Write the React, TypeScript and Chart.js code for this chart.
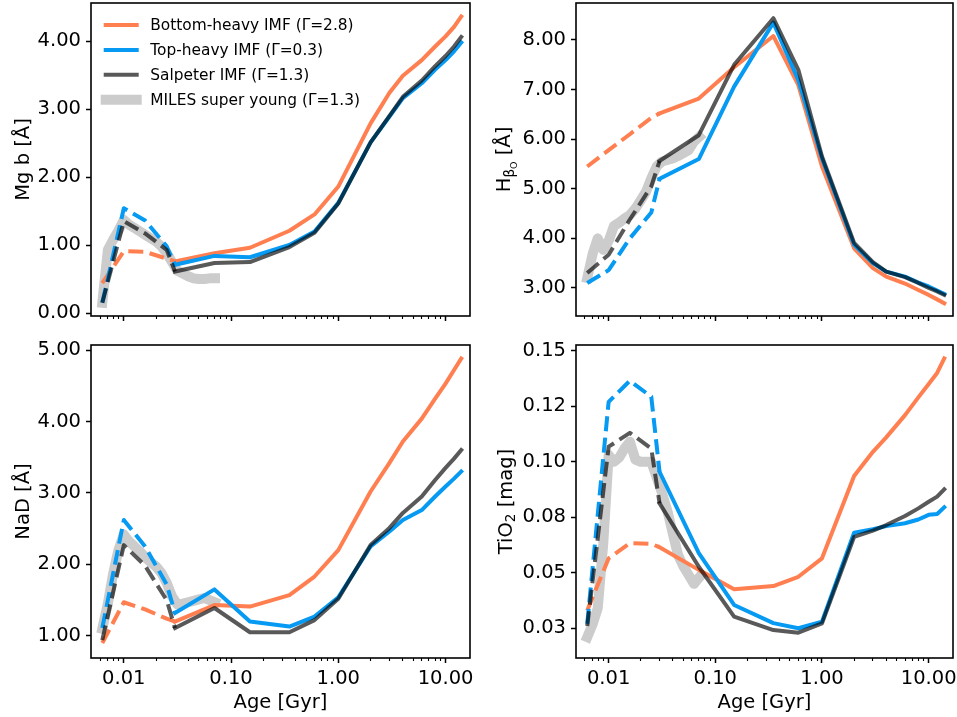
import React, { useEffect, useRef } from 'react';
import { Chart, registerables } from 'chart.js';

Chart.register(...registerables);

// ---------------- data ----------------
const youngAges = [0.0063, 0.01, 0.0158, 0.0251, 0.03];
const oldAges = [0.03, 0.07, 0.15, 0.35, 0.6, 1.0, 2.0, 3.0, 4.0, 6.0, 8.0, 10.0, 12.0, 14.0];
const milesAges = [
  0.0063, 0.0071, 0.0079, 0.0089, 0.01, 0.0112, 0.0126, 0.0141, 0.0158, 0.0178, 0.02,
  0.0224, 0.0251, 0.0282, 0.0316, 0.0355, 0.0398, 0.0447, 0.0501, 0.0562, 0.0631, 0.0708,
];

// Mg b
const mgbBottomYoung = [0.44, 0.91, 0.9, 0.8, 0.76];
const mgbTopYoung = [0.15, 1.54, 1.36, 0.98, 0.71];
const mgbSalpYoung = [0.15, 1.35, 1.17, 0.93, 0.61];
const mgbBottomOld = [0.76, 0.88, 0.96, 1.21, 1.45, 1.86, 2.79, 3.24, 3.49, 3.72, 3.92, 4.07, 4.21, 4.36];
const mgbTopOld = [0.71, 0.84, 0.82, 1.0, 1.2, 1.62, 2.51, 2.89, 3.16, 3.38, 3.58, 3.72, 3.85, 3.98];
const mgbSalpOld = [0.61, 0.735, 0.75, 0.97, 1.18, 1.61, 2.51, 2.9, 3.18, 3.42, 3.63, 3.78, 3.92, 4.06];
const mgbMiles = [0.15, 0.93, 1.07, 1.21, 1.37, 1.3, 1.25, 1.2, 1.15, 1.1, 1.05, 0.98, 0.88, 0.75, 0.62, 0.58, 0.54, 0.51, 0.5, 0.5, 0.51, 0.51];

// H beta_o
const hbBottomYoung = [5.45, 5.78, 6.1, 6.43, 6.52];
const hbTopYoung = [3.1, 3.36, 4.0, 4.52, 5.2];
const hbSalpYoung = [3.3, 3.67, 4.38, 5.05, 5.56];
const hbBottomOld = [6.52, 6.82, 7.45, 8.08, 7.09, 5.45, 3.8, 3.4, 3.23, 3.09, 2.96, 2.86, 2.77, 2.69];
const hbTopOld = [5.2, 5.6, 7.06, 8.35, 7.19, 5.61, 3.87, 3.5, 3.33, 3.23, 3.11, 3.03, 2.95, 2.88];
const hbSalpOld = [5.56, 6.08, 7.5, 8.44, 7.4, 5.65, 3.91, 3.52, 3.33, 3.22, 3.1, 3.0, 2.93, 2.86];
const hbMiles = [3.2, 3.7, 4.0, 3.77, 3.95, 4.25, 4.32, 4.4, 4.47, 4.6, 4.77, 4.94, 5.21, 5.45, 5.55, 5.58, 5.61, 5.66, 5.72, 5.78, 5.95, 6.05];

// NaD
const nadBottomYoung = [0.9, 1.47, 1.37, 1.24, 1.2];
const nadTopYoung = [1.11, 2.62, 2.25, 1.72, 1.32];
const nadSalpYoung = [0.94, 2.27, 1.98, 1.5, 1.11];
const nadBottomOld = [1.2, 1.43, 1.41, 1.57, 1.83, 2.2, 3.02, 3.42, 3.72, 4.04, 4.32, 4.53, 4.72, 4.88];
const nadTopOld = [1.32, 1.65, 1.2, 1.13, 1.27, 1.54, 2.25, 2.46, 2.62, 2.76, 2.95, 3.09, 3.2, 3.3];
const nadSalpOld = [1.11, 1.39, 1.05, 1.05, 1.22, 1.52, 2.27, 2.51, 2.72, 2.95, 3.18, 3.35, 3.48, 3.6];
const nadMiles = [1.1, 1.45, 1.85, 2.2, 2.42, 2.32, 2.25, 2.18, 2.1, 2.03, 1.97, 1.88, 1.74, 1.55, 1.44, 1.45, 1.47, 1.49, 1.51, 1.53, 1.5, 1.47];

// TiO2
const tioBottomYoung = [0.033, 0.0565, 0.0633, 0.063, 0.0615];
const tioTopYoung = [0.027, 0.127, 0.1365, 0.1293, 0.0955];
const tioSalpYoung = [0.026, 0.1068, 0.113, 0.106, 0.0813];
const tioBottomOld = [0.0615, 0.0513, 0.0426, 0.044, 0.0482, 0.0565, 0.0936, 0.1045, 0.111, 0.121, 0.129, 0.135, 0.14, 0.1466];
const tioTopOld = [0.0955, 0.0588, 0.0355, 0.0273, 0.025, 0.028, 0.068, 0.0696, 0.071, 0.0723, 0.074, 0.0761, 0.0765, 0.0795];
const tioSalpOld = [0.0813, 0.0527, 0.0302, 0.0242, 0.023, 0.0272, 0.0662, 0.069, 0.0715, 0.0756, 0.079, 0.082, 0.0843, 0.0876];
const tioMiles = [0.021, 0.027, 0.034, 0.063, 0.103, 0.1, 0.102, 0.106, 0.109, 0.101, 0.1, 0.1, 0.1, 0.093, 0.086, 0.078, 0.068, 0.058, 0.053, 0.049, 0.045, 0.048];

// ticks
const xMajorTicks = [0.01, 0.1, 1, 10];
const xMinorTicks = [
  0.006, 0.007, 0.008, 0.009,
  0.02, 0.03, 0.04, 0.05, 0.06, 0.07, 0.08, 0.09,
  0.2, 0.3, 0.4, 0.5, 0.6, 0.7, 0.8, 0.9,
  2, 3, 4, 5, 6, 7, 8, 9,
];
const mgbTicks = [0, 1, 2, 3, 4];
const hbTicks = [3, 4, 5, 6, 7, 8];
const nadTicks = [1, 2, 3, 4, 5];
const tioTicks = [0.025, 0.05, 0.075, 0.1, 0.125, 0.15];
const tioTickLabels = ['0.03', '0.05', '0.08', '0.10', '0.12', '0.15'];

const legendLabels = [
  'Bottom-heavy IMF (Γ=2.8)',
  'Top-heavy IMF (Γ=0.3)',
  'Salpeter IMF (Γ=1.3)',
  'MILES super young (Γ=1.3)',
];

// ---------------- styles ----------------
const W = 957;
const H = 717;
const FONT = 'DejaVu Sans';
const TICK_SIZE = 19.5;
const LEGEND_SIZE = 15.4;
const ORANGE = '#FF7F50';
const BLUE = '#069AF3';
const GRAY = 'rgba(0,0,0,0.65)';
const MILES = '#CCCCCC';
const LINE_W = 4;
const BAND_W = 10;
const DASH = [15, 6.5];
const X_MIN = Math.pow(10, -2.306);
const X_MAX = Math.pow(10, 1.228);
const Y_AXIS_W = 60;

type Piece = { t: string; s: number; dy: number };

type PanelSpec = {
  box: { left: number; top: number; right: number; bottom: number };
  yMin: number;
  yMax: number;
  yTicks: number[];
  yLabels?: string[];
  yTitle: Piece[];
  yTitleX: number;
  showX: boolean;
  legend: boolean;
  young: number[][];
  old: number[][];
  miles: number[];
};

const panels: PanelSpec[] = [
  {
    box: { left: 91, top: 3, right: 470, bottom: 316 },
    yMin: -0.044, yMax: 4.56, yTicks: mgbTicks,
    yTitle: [{ t: 'Mg b [Å]', s: TICK_SIZE, dy: 0 }], yTitleX: 28.5,
    showX: false, legend: true,
    young: [mgbBottomYoung, mgbTopYoung, mgbSalpYoung],
    old: [mgbBottomOld, mgbTopOld, mgbSalpOld],
    miles: mgbMiles,
  },
  {
    box: { left: 576, top: 3, right: 953, bottom: 316 },
    yMin: 2.435, yMax: 8.746, yTicks: hbTicks,
    yTitle: [
      { t: 'H', s: TICK_SIZE, dy: 0 },
      { t: 'β', s: 13.6, dy: 3.5 },
      { t: 'O', s: 9.5, dy: 6.5 },
      { t: ' [Å]', s: TICK_SIZE, dy: 0 },
    ],
    yTitleX: 510,
    showX: false, legend: false,
    young: [hbBottomYoung, hbTopYoung, hbSalpYoung],
    old: [hbBottomOld, hbTopOld, hbSalpOld],
    miles: hbMiles,
  },
  {
    box: { left: 91, top: 345, right: 470, bottom: 658 },
    yMin: 0.69, yMax: 5.07, yTicks: nadTicks,
    yTitle: [{ t: 'NaD [Å]', s: TICK_SIZE, dy: 0 }], yTitleX: 28.5,
    showX: true, legend: false,
    young: [nadBottomYoung, nadTopYoung, nadSalpYoung],
    old: [nadBottomOld, nadTopOld, nadSalpOld],
    miles: nadMiles,
  },
  {
    box: { left: 576, top: 345, right: 953, bottom: 658 },
    yMin: 0.0116, yMax: 0.1526, yTicks: tioTicks, yLabels: tioTickLabels,
    yTitle: [
      { t: 'TiO', s: TICK_SIZE, dy: 0 },
      { t: '2', s: 13.6, dy: 3.5 },
      { t: ' [mag]', s: TICK_SIZE, dy: 0 },
    ],
    yTitleX: 511.5,
    showX: true, legend: false,
    young: [tioBottomYoung, tioTopYoung, tioSalpYoung],
    old: [tioBottomOld, tioTopOld, tioSalpOld],
    miles: tioMiles,
  },
];

const isMajor = (v: number) => xMajorTicks.some((m) => Math.abs(Math.log10(v) - Math.log10(m)) < 1e-6);

function drawRich(ctx: CanvasRenderingContext2D, pieces: Piece[], cx: number, cy: number, rotate: boolean) {
  ctx.save();
  ctx.translate(cx, cy);
  if (rotate) ctx.rotate(-Math.PI / 2);
  ctx.textBaseline = 'alphabetic';
  ctx.textAlign = 'left';
  ctx.fillStyle = '#000';
  let total = 0;
  const widths = pieces.map((p) => {
    ctx.font = `${p.s}px "${FONT}"`;
    const w = ctx.measureText(p.t).width;
    total += w;
    return w;
  });
  let x = -total / 2;
  pieces.forEach((p, i) => {
    ctx.font = `${p.s}px "${FONT}"`;
    ctx.fillText(p.t, x, p.dy);
    x += widths[i];
  });
  ctx.restore();
}

const decorPlugin = {
  id: 'decor',
  afterDraw(chart: any) {
    const spec: PanelSpec = chart.options.plugins.decor.spec;
    const ctx: CanvasRenderingContext2D = chart.ctx;
    const a = chart.chartArea;
    // frame
    ctx.save();
    ctx.strokeStyle = '#000';
    ctx.lineWidth = 1.6;
    ctx.strokeRect(a.left, a.top, a.right - a.left, a.bottom - a.top);
    ctx.restore();
    // y title
    drawRich(ctx, spec.yTitle, spec.yTitleX, (a.top + a.bottom) / 2, true);
    // x title
    if (spec.showX) {
      drawRich(ctx, [{ t: 'Age [Gyr]', s: TICK_SIZE, dy: 0 }], (a.left + a.right) / 2, 708.3, false);
    }
    // legend
    if (spec.legend) {
      const colors = [ORANGE, BLUE, GRAY, MILES];
      const widths = [LINE_W, LINE_W, LINE_W, BAND_W];
      ctx.save();
      ctx.font = `${LEGEND_SIZE}px "${FONT}"`;
      ctx.textBaseline = 'middle';
      ctx.textAlign = 'left';
      legendLabels.forEach((label, i) => {
        const y = a.top + 22 + i * 24.9;
        ctx.beginPath();
        ctx.strokeStyle = colors[i];
        ctx.lineWidth = widths[i];
        ctx.lineCap = 'square';
        ctx.moveTo(a.left + 14.7, y);
        ctx.lineTo(a.left + 45.7, y);
        ctx.stroke();
        ctx.fillStyle = '#000';
        ctx.fillText(label, a.left + 59.3, y + 1);
      });
      ctx.restore();
    }
  },
};

function pts(xs: number[], ys: number[]) {
  return xs.map((x, i) => ({ x, y: ys[i] }));
}

function buildConfig(spec: PanelSpec): any {
  const colors = [ORANGE, BLUE, GRAY];
  const datasets: any[] = [
    {
      label: 'MILES super young (Γ=1.3)',
      data: pts(milesAges, spec.miles),
      borderColor: MILES,
      borderWidth: BAND_W,
      borderCapStyle: 'square',
      borderJoinStyle: 'round',
      pointRadius: 0,
      order: 10,
    },
  ];
  colors.forEach((c, k) => {
    datasets.push({
      label: legendLabels[k] + ' young',
      data: pts(youngAges, spec.young[k]),
      borderColor: c,
      borderWidth: LINE_W,
      borderDash: DASH,
      borderCapStyle: 'butt',
      borderJoinStyle: 'round',
      pointRadius: 0,
      order: 9 - 2 * k,
    });
    datasets.push({
      label: legendLabels[k],
      data: pts(oldAges, spec.old[k]),
      borderColor: c,
      borderWidth: LINE_W,
      borderCapStyle: 'square',
      borderJoinStyle: 'round',
      pointRadius: 0,
      order: 8 - 2 * k,
    });
  });

  const font = { family: FONT, size: TICK_SIZE };
  const xAxisH = spec.showX ? 40 : 20;
  return {
    type: 'line',
    data: { datasets },
    options: {
      responsive: false,
      animation: false,
      events: [],
      devicePixelRatio: 1,
      layout: {
        padding: {
          left: spec.box.left - Y_AXIS_W,
          top: spec.box.top,
          right: W - spec.box.right,
          bottom: H - spec.box.bottom - xAxisH,
        },
      },
      plugins: {
        legend: { display: false },
        tooltip: { enabled: false },
        decor: { spec },
      },
      scales: {
        x: {
          type: 'logarithmic',
          min: X_MIN,
          max: X_MAX,
          afterBuildTicks: (s: any) => {
            s.ticks = [...xMajorTicks, ...xMinorTicks]
              .filter((v) => v >= X_MIN && v <= X_MAX)
              .sort((p, q) => p - q)
              .map((v) => ({ value: v, major: isMajor(v) }));
          },
          afterFit: (s: any) => {
            s.height = xAxisH;
            s.paddingLeft = 0;
            s.paddingRight = 0;
            s.paddingTop = 0;
            s.paddingBottom = 0;
          },
          ticks: {
            autoSkip: false,
            maxRotation: 0,
            minRotation: 0,
            padding: 4,
            color: '#000',
            font,
            callback: (v: any) => (spec.showX && isMajor(Number(v)) ? Number(v).toFixed(2) : ''),
          },
          grid: {
            drawOnChartArea: false,
            drawTicks: true,
            tickLength: 5,
            tickColor: '#000',
            tickWidth: (c: any) => (c.tick && isMajor(c.tick.value) ? 1.5 : 1.1),
            tickBorderDash: (c: any) => (c.tick && isMajor(c.tick.value) ? [] : [3, 30]),
          },
          border: { display: false },
        },
        y: {
          type: 'linear',
          min: spec.yMin,
          max: spec.yMax,
          afterBuildTicks: (s: any) => {
            s.ticks = spec.yTicks.map((v) => ({ value: v }));
          },
          afterFit: (s: any) => {
            s.width = Y_AXIS_W;
            s.paddingLeft = 0;
            s.paddingRight = 0;
            s.paddingTop = 0;
            s.paddingBottom = 0;
          },
          ticks: {
            autoSkip: false,
            padding: 5,
            color: '#000',
            font,
            callback: (v: any) => {
              const i = spec.yTicks.findIndex((t) => Math.abs(t - Number(v)) < 1e-9);
              if (spec.yLabels && i >= 0) return spec.yLabels[i];
              return Number(v).toFixed(2);
            },
          },
          grid: {
            drawOnChartArea: false,
            drawTicks: true,
            tickLength: 5,
            tickColor: '#000',
            tickWidth: 1.5,
          },
          border: { display: false },
        },
      },
    },
    plugins: [decorPlugin],
  };
}

function Panel({ spec }: { spec: PanelSpec }) {
  const ref = useRef<HTMLCanvasElement>(null);
  useEffect(() => {
    const chart = new Chart(ref.current as HTMLCanvasElement, buildConfig(spec));
    return () => chart.destroy();
  }, [spec]);
  return (
    <canvas
      ref={ref}
      width={W}
      height={H}
      style={{ position: 'absolute', left: 0, top: 0, width: W, height: H }}
    />
  );
}

export default function App() {
  return (
    <div style={{ position: 'fixed', left: 0, top: 0, width: W, height: H, background: '#fff', overflow: 'hidden' }}>
      {panels.map((p, i) => (
        <Panel key={i} spec={p} />
      ))}
    </div>
  );
}
